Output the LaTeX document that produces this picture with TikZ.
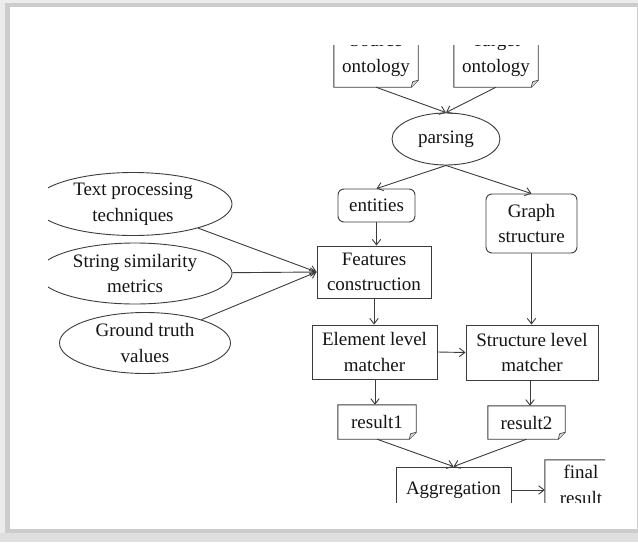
\documentclass[tikz,border=0pt]{standalone}
\usepackage{fontspec}
\setmainfont{Liberation Serif}
\usetikzlibrary{shapes.geometric,arrows.meta,calc}
\definecolor{ln}{HTML}{3C3C3C}
\definecolor{tx}{HTML}{141414}
\newcommand{\docoutline}[1]{%
  \draw[ln,line width=0.9pt] (#1.north west) -- (#1.south west) -- ([xshift=-7pt]#1.south east)
    -- ([yshift=7pt]#1.south east) -- (#1.north east) -- cycle;
  \draw[ln,line width=0.6pt,fill=gray!30] ([xshift=-7pt]#1.south east) -- ([xshift=-5.5pt,yshift=5.5pt]#1.south east) -- ([yshift=7pt]#1.south east);
}
\begin{document}
\begin{tikzpicture}[x=1pt,y=-1pt,
  every node/.style={text=tx,font=\fontsize{19}{25.5}\selectfont,align=center,inner sep=0pt},
  boxn/.style={draw=ln,line width=0.9pt,rectangle},
  rboxn/.style={draw=ln,line width=0.9pt,rectangle,rounded corners=6pt},
  elln/.style={draw=ln,line width=0.9pt,ellipse},
  docn/.style={rectangle},
  conn/.style={draw=ln,line width=0.9pt,-{Straight Barb[length=5.5pt,width=8.5pt]}}]
\useasboundingbox (0,0) rectangle (638,542);
% frame
\fill[gray!40] (0,0) rectangle (638,542);
\fill[gray!15] (0,0) rectangle (638,3);
\fill[gray!15] (0,0) rectangle (5,542);
\fill[gray!25] (0,533) rectangle (638,542);
\fill[white] (10,7) rectangle (637,529);
\begin{scope}
\clip (48,45) rectangle (605,502);
\node[docn,minimum width=84pt,minimum height=63pt] (src) at (376,55.5) {Source\\ontology};
\node[docn,minimum width=84pt,minimum height=63pt] (tgt) at (496,55.5) {Target\\ontology};
\docoutline{src}
\docoutline{tgt}
\node[elln,minimum width=108pt,minimum height=52pt] (parse) at (446,139) {parsing};
\node[rboxn,minimum width=77pt,minimum height=33pt] (ent) at (376.5,205.5) {entities};
\node[rboxn,minimum width=91pt,minimum height=59pt] (graph) at (531.5,223.5) {Graph\\structure};
\node[boxn,minimum width=114pt,minimum height=52pt] (feat) at (374,272) {Features\\construction};
\node[boxn,minimum width=125pt,minimum height=54pt] (elem) at (374.5,352) {Element level\\matcher};
\node[boxn,minimum width=132pt,minimum height=55pt] (strc) at (532,352.5) {Structure level\\matcher};
\node[docn,minimum width=78pt,minimum height=34pt] (r1) at (377,422) {result1};
\node[docn,minimum width=77pt,minimum height=33pt] (r2) at (526.5,422.5) {result2};
\docoutline{r1}
\docoutline{r2}
\node[boxn,minimum width=115pt,minimum height=46pt] (agg) at (453.5,490) {Aggregation};
\node[docn,minimum width=72pt,minimum height=50pt] (fin) at (581,485) {final\\result};
\docoutline{fin}
\node[elln,minimum width=198pt,minimum height=63pt] (tp) at (133,204) {Text processing\\techniques};
\node[elln,minimum width=194pt,minimum height=61pt] (ss) at (135,273.5) {String similarity\\metrics};
\node[elln,minimum width=171pt,minimum height=61pt] (gt) at (145,343) {Ground truth\\values};
% connectors
\draw[conn] (src.south) -- (parse.north);
\draw[conn] (tgt.south) -- (parse.north);
\draw[conn] (parse.south) -- (ent.north);
\draw[conn] (parse.south) -- (graph.north);
\draw[conn] (ent.south) -- (ent.south |- feat.north);
\draw[conn] (feat.south) -- (feat.south |- elem.north);
\draw[conn] (graph.south) -- (graph.south |- strc.north);
\draw[conn] (elem.east) -- (strc.west);
\draw[conn] ([xshift=0.5pt]elem.south) -- ([xshift=0.5pt]elem.south |- r1.north);
\draw[conn] ([xshift=-2pt]strc.south) -- ([xshift=-2pt]strc.south |- r2.north);
\draw[conn] (r1.south) -- (agg.north);
\draw[conn] (r2.south) -- (agg.north);
\draw[conn] (agg.east) -- (agg.east -| fin.west);
\draw[conn] (tp) -- (feat.west);
\draw[conn] (ss) -- (feat.west);
\draw[conn] (gt) -- (feat.west);
\end{scope}
\end{tikzpicture}
\end{document}
